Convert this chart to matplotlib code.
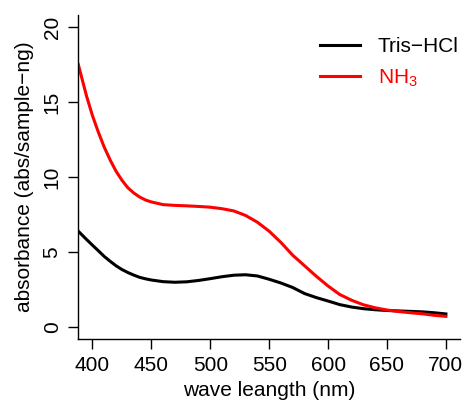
import matplotlib
matplotlib.use("Agg")
import matplotlib.pyplot as plt

plt.rcParams['font.family'] = ['Liberation Sans', 'DejaVu Sans']
plt.rcParams['mathtext.fontset'] = 'custom'
plt.rcParams['mathtext.rm'] = 'Liberation Sans'
plt.rcParams['mathtext.default'] = 'rm'

# wavelengths (nm)
wave = [388, 395, 400, 405, 410, 415, 420, 425, 430, 435, 440, 445, 450,
        460, 470, 480, 490, 500, 510, 520, 530, 540, 550, 560, 570, 580,
        590, 600, 610, 620, 630, 640, 650, 660, 670, 680, 690, 700]
# absorbance, Tris-HCl buffer
tris = [6.4, 5.85, 5.47, 5.1, 4.72, 4.4, 4.1, 3.85, 3.65, 3.48, 3.33, 3.23,
        3.15, 3.04, 3.0, 3.03, 3.12, 3.24, 3.37, 3.47, 3.5, 3.42, 3.2, 2.95,
        2.65, 2.25, 1.98, 1.75, 1.51, 1.35, 1.24, 1.17, 1.12, 1.09, 1.06,
        1.03, 0.97, 0.89]
# absorbance, NH3
nh3 = [17.5, 15.4, 14.1, 13.0, 12.0, 11.15, 10.4, 9.8, 9.3, 8.95, 8.68,
       8.48, 8.35, 8.17, 8.12, 8.09, 8.05, 8.0, 7.9, 7.75, 7.45, 7.0, 6.4,
       5.65, 4.8, 4.1, 3.4, 2.75, 2.18, 1.8, 1.5, 1.3, 1.15, 1.05, 0.97, 0.9,
       0.8, 0.73]

xticks = [400, 450, 500, 550, 600, 650, 700]
yticks = [0, 5, 10, 15, 20]

fig = plt.figure(figsize=(4.65, 4.07), dpi=100)
ax = fig.add_axes([0.1684, 0.1663, 0.8209, 0.7968])

ax.plot(wave, tris, color='black', lw=2.2, label='Tris\u2212HCl')
ax.plot(wave, nh3, color='red', lw=2.2, label='NH$_3$')

ax.set_xlim(388, 712)
ax.set_ylim(-0.8, 20.8)
ax.set_xticks(xticks)
ax.set_yticks(yticks)

for s in ['top', 'right']:
    ax.spines[s].set_visible(False)
for s in ['left', 'bottom']:
    ax.spines[s].set_linewidth(1.0)

ax.tick_params(direction='out', length=7, width=1.0, labelsize=15, pad=5)
ax.tick_params(axis='y', labelrotation=90)
for t in ax.get_yticklabels():
    t.set_va('center')

ax.set_xlabel('wave leangth (nm)', fontsize=15, labelpad=4)
ax.set_ylabel('absorbance (abs/sample\u2212ng)', fontsize=15, labelpad=6)

leg = ax.legend(loc='upper right', frameon=False, fontsize=15,
                handlelength=1.9, handletextpad=0.85, labelspacing=0.55,
                bbox_to_anchor=(1.045, 0.99))
for txt, c in zip(leg.get_texts(), ['black', 'red']):
    txt.set_color(c)

fig.savefig('out.png', dpi=100)
